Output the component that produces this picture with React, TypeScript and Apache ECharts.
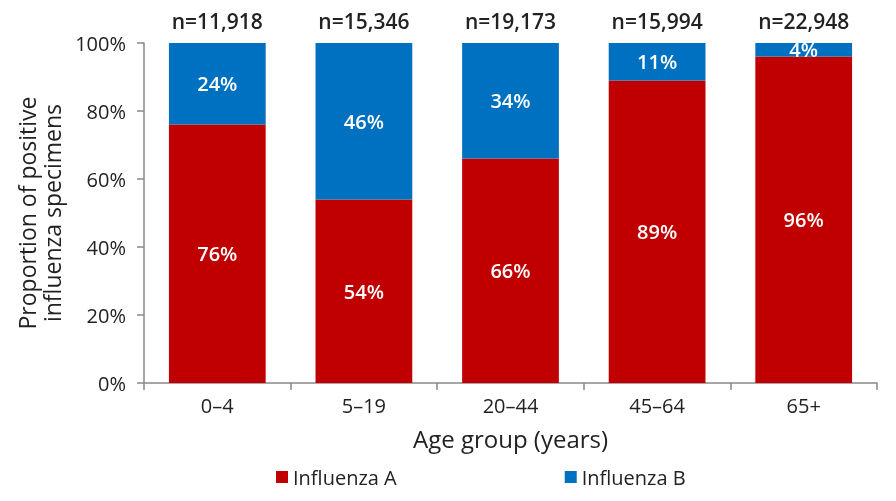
import React, { useEffect, useRef } from "react";
import * as echarts from "echarts";

const categories = ["0\u20134", "5\u201319", "20\u201344", "45\u201364", "65+"];
const nLabels = ["n=11,918", "n=15,346", "n=19,173", "n=15,994", "n=22,948"];
const influenzaA = [76, 54, 66, 89, 96];
const influenzaB = [24, 46, 34, 11, 4];

const FONT = "Open Sans";

export default function App() {
  const ref = useRef<HTMLDivElement>(null);
  useEffect(() => {
    const chart = echarts.init(ref.current!, undefined, { renderer: "svg" });
    const insideLabel = {
      show: true,
      position: "inside",
      color: "#ffffff",
      fontFamily: FONT,
      fontWeight: 600,
      fontSize: 20,
      formatter: (p: any) => p.value + "%",
    };
    chart.setOption({
      animation: false,
      textStyle: { fontFamily: FONT },
      grid: { left: 144, right: 19, top: 43, bottom: 118, containLabel: false },
      legend: {
        top: 462,
        left: 271,
        itemGap: 168,
        itemWidth: 12,
        itemHeight: 12,
        itemTextGap: 5,
        icon: "rect",
        textStyle: { fontSize: 20, color: "#222", fontFamily: FONT },
        data: ["Influenza A", "Influenza B"],
      },
      xAxis: [
        {
          type: "category",
          data: categories,
          axisLine: { lineStyle: { color: "#888", width: 1.5 } },
          axisTick: { show: true, length: 7, lineStyle: { color: "#888", width: 1.5 } },
          axisLabel: { fontSize: 20, color: "#222", margin: 12, fontFamily: FONT },
          name: "Age group (years)",
          nameLocation: "middle",
          nameGap: 43,
          nameTextStyle: { fontSize: 24, color: "#222", fontFamily: FONT },
        },
        {
          type: "category",
          position: "top",
          data: nLabels,
          axisLine: { show: false },
          axisTick: { show: false },
          axisLabel: { fontSize: 21, color: "#222", fontWeight: 600, margin: 12, fontFamily: FONT },
        },
      ],
      yAxis: {
        type: "value",
        min: 0,
        max: 100,
        interval: 20,
        splitLine: { show: false },
        axisLine: { show: true, lineStyle: { color: "#888", width: 1.5 } },
        axisTick: { show: true, length: 7, lineStyle: { color: "#888", width: 1.5 } },
        axisLabel: { fontSize: 20, color: "#222", margin: 18, formatter: "{value}%", fontFamily: FONT },
        name: "Proportion of positive\ninfluenza specimens",
        nameLocation: "middle",
        nameGap: 80,
        nameTextStyle: { fontSize: 23, color: "#222", lineHeight: 25, fontFamily: FONT },
      },
      series: [
        {
          name: "Influenza A",
          type: "bar",
          stack: "total",
          data: influenzaA,
          barCategoryGap: "34%",
          itemStyle: { color: "#C00000" },
          label: insideLabel,
        },
        {
          name: "Influenza B",
          type: "bar",
          stack: "total",
          data: influenzaB,
          itemStyle: { color: "#0070C0" },
          label: insideLabel,
        },
      ],
    });
    return () => chart.dispose();
  }, []);
  return (
    <div
      ref={ref}
      style={{ position: "fixed", left: 0, top: 0, width: 896, height: 501 }}
    />
  );
}
